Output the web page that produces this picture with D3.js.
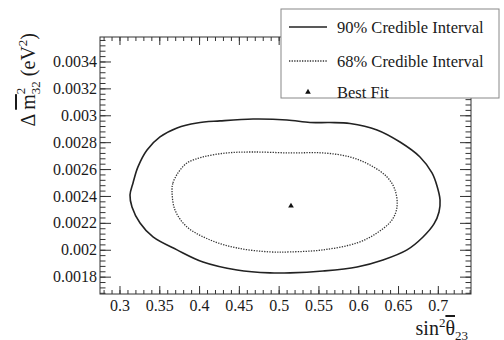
<!DOCTYPE html>
<html>
<head>
<meta charset="utf-8">
<script src="https://cdn.jsdelivr.net/npm/d3@7"></script>
<style>
	body { margin: 0; background: #fff; }
	svg { display: block; font-family: "Liberation Serif", "Times New Roman", serif; }
	.axis path { display: none; }
	.axis line { stroke: #333; stroke-width: 1; }
	.axis text { font-size: 16px; fill: #1a1a1a; font-family: "Liberation Serif", serif; }
</style>
</head>
<body>
<div id="chart"></div>
<script>
// Contour points (sin^2 theta23, delta m^2 32)
var c90X = [0.3132, 0.3170, 0.3232, 0.3346, 0.3509, 0.3723, 0.3974, 0.4263, 0.4678, 0.5105, 0.5394, 0.5645, 0.5897,
	0.6236, 0.6525, 0.6776, 0.6927, 0.6990, 0.7028, 0.7015, 0.6952, 0.6814, 0.6613, 0.6311, 0.5985, 0.5557,
	0.5143, 0.4891, 0.4477, 0.4049, 0.3723, 0.3421, 0.3258, 0.3157];
var c90Y = [0.002407, 0.002497, 0.002616, 0.002742, 0.002839, 0.002906, 0.002943, 0.002958, 0.002972, 0.002965, 0.002946, 0.002946, 0.002939,
	0.002891, 0.002801, 0.002690, 0.002571, 0.002474, 0.002370, 0.002281, 0.002192, 0.002095, 0.001999, 0.001924, 0.001872, 0.001842,
	0.001828, 0.001828, 0.001850, 0.001909, 0.001999, 0.002095, 0.002199, 0.002318];

var c68X = [0.3660, 0.3672, 0.3735, 0.3848, 0.4049, 0.4351, 0.4678, 0.5143, 0.5557, 0.5897, 0.6148, 0.6362,
	0.6462, 0.6487, 0.6425, 0.6236, 0.5985, 0.5557, 0.5143, 0.4891, 0.4477, 0.4138, 0.3848, 0.3697];
var c68Y = [0.002445, 0.002497, 0.002571, 0.002645, 0.002690, 0.002720, 0.002727, 0.002720, 0.002720, 0.002690, 0.002630, 0.002541,
	0.002445, 0.002318, 0.002222, 0.002125, 0.002051, 0.001999, 0.001984, 0.001984, 0.002013, 0.002073, 0.002170, 0.002296];

var bestFit = [0.5155, 0.002326];

var xTicks = [0.3, 0.35, 0.4, 0.45, 0.5, 0.55, 0.6, 0.65, 0.7];
var yTicks = [0.0018, 0.002, 0.0022, 0.0024, 0.0026, 0.0028, 0.003, 0.0032, 0.0034];
var legendLabels = ["90% Credible Interval", "68% Credible Interval", "Best Fit"];

var W = 504, H = 340;
var margin = { top: 37, right: 33, bottom: 46, left: 100 };
var w = W - margin.left - margin.right;
var h = H - margin.top - margin.bottom;

var svg = d3.select("#chart").append("svg")
	.attr("width", W)
	.attr("height", H);

var g = svg.append("g")
	.attr("transform", "translate(" + margin.left + "," + margin.top + ")");

var x = d3.scaleLinear().domain([0.2755, 0.7417]).range([0, w]);
var y = d3.scaleLinear().domain([0.001671, 0.003582]).range([h, 0]);

var fmt = d3.format("~g");

// minor ticks
var xMinor = d3.range(0.28, 0.741, 0.01);
var yMinor = d3.range(0.00168, 0.00358, 0.00004);

g.append("g").attr("class", "axis")
	.attr("transform", "translate(0," + h + ")")
	.call(d3.axisBottom(x).tickValues(xMinor).tickSize(-4).tickFormat(""));
g.append("g").attr("class", "axis")
	.call(d3.axisTop(x).tickValues(xMinor).tickSize(-4).tickFormat(""));
g.append("g").attr("class", "axis")
	.call(d3.axisLeft(y).tickValues(yMinor).tickSize(-5.5).tickFormat(""));
g.append("g").attr("class", "axis")
	.attr("transform", "translate(" + w + ",0)")
	.call(d3.axisRight(y).tickValues(yMinor).tickSize(-5.5).tickFormat(""));

// major ticks
g.append("g").attr("class", "axis")
	.attr("transform", "translate(0," + h + ")")
	.call(d3.axisBottom(x).tickValues(xTicks).tickSize(-8).tickPadding(6).tickFormat(fmt));
g.append("g").attr("class", "axis")
	.call(d3.axisTop(x).tickValues(xTicks).tickSize(-8).tickFormat(""));
g.append("g").attr("class", "axis")
	.call(d3.axisLeft(y).tickValues(yTicks).tickSize(-11).tickPadding(3).tickFormat(fmt));
g.append("g").attr("class", "axis")
	.attr("transform", "translate(" + w + ",0)")
	.call(d3.axisRight(y).tickValues(yTicks).tickSize(-11).tickFormat(""));

// frame
g.append("rect")
	.attr("width", w)
	.attr("height", h)
	.attr("fill", "none")
	.attr("stroke", "#333")
	.attr("stroke-width", 1);

// contours
var line = d3.line()
	.x(function (d) { return x(d[0]); })
	.y(function (d) { return y(d[1]); })
	.curve(d3.curveCatmullRomClosed.alpha(0.5));

g.append("path")
	.attr("d", line(d3.zip(c90X, c90Y)))
	.attr("fill", "none")
	.attr("stroke", "#222")
	.attr("stroke-width", 1.6);

g.append("path")
	.attr("d", line(d3.zip(c68X, c68Y)))
	.attr("fill", "none")
	.attr("stroke", "#333")
	.attr("stroke-width", 1.3)
	.attr("stroke-dasharray", "1.3,1.3");

var tri = d3.symbol().type(d3.symbolTriangle).size(14);
g.append("path")
	.attr("d", tri())
	.attr("transform", "translate(" + x(bestFit[0]) + "," + y(bestFit[1]) + ")")
	.attr("fill", "#111");

// legend
var leg = svg.append("g").attr("transform", "translate(281,9)");
leg.append("rect")
	.attr("width", 218)
	.attr("height", 89)
	.attr("fill", "#fff")
	.attr("stroke", "#888")
	.attr("stroke-width", 1);

var rowY = [18, 52, 83];
leg.selectAll("text.lbl")
	.data(legendLabels)
	.enter().append("text")
	.attr("class", "lbl")
	.attr("x", 56)
	.attr("y", function (d, i) { return rowY[i] + 6; })
	.attr("font-size", 16.5)
	.attr("fill", "#1a1a1a")
	.text(function (d) { return d; });

leg.append("line")
	.attr("x1", 8).attr("x2", 46)
	.attr("y1", rowY[0]).attr("y2", rowY[0])
	.attr("stroke", "#222").attr("stroke-width", 1.6);
leg.append("line")
	.attr("x1", 8).attr("x2", 46)
	.attr("y1", rowY[1]).attr("y2", rowY[1])
	.attr("stroke", "#333").attr("stroke-width", 1.3)
	.attr("stroke-dasharray", "1.3,1.3");
leg.append("path")
	.attr("d", tri())
	.attr("transform", "translate(27," + rowY[2] + ")")
	.attr("fill", "#111");

// y axis title
var yt = svg.append("text")
	.attr("transform", "translate(35,33) rotate(-90)")
	.attr("text-anchor", "end")
	.attr("font-size", 20)
	.attr("fill", "#1a1a1a");
yt.append("tspan").text("\u0394 ");
yt.append("tspan").attr("text-decoration", "overline").text("m");
yt.append("tspan").attr("font-size", 13).attr("dy", -10).text("2");
yt.append("tspan").attr("font-size", 13).attr("dx", -6.5).attr("dy", 15).text("32");
yt.append("tspan").attr("dy", -5).text(" (eV");
yt.append("tspan").attr("font-size", 13).attr("dy", -8).text("2");
yt.append("tspan").attr("dy", 8).text(")");

// x axis title
var xt = svg.append("text")
	.attr("x", 468)
	.attr("y", 335)
	.attr("text-anchor", "end")
	.attr("font-size", 20)
	.attr("fill", "#1a1a1a");
xt.append("tspan").text("sin");
xt.append("tspan").attr("font-size", 13).attr("dy", -8).text("2");
xt.append("tspan").attr("dy", 8).attr("text-decoration", "overline").text("\u03b8");
xt.append("tspan").attr("font-size", 13).attr("dy", 5).text("23");
</script>
</body>
</html>
